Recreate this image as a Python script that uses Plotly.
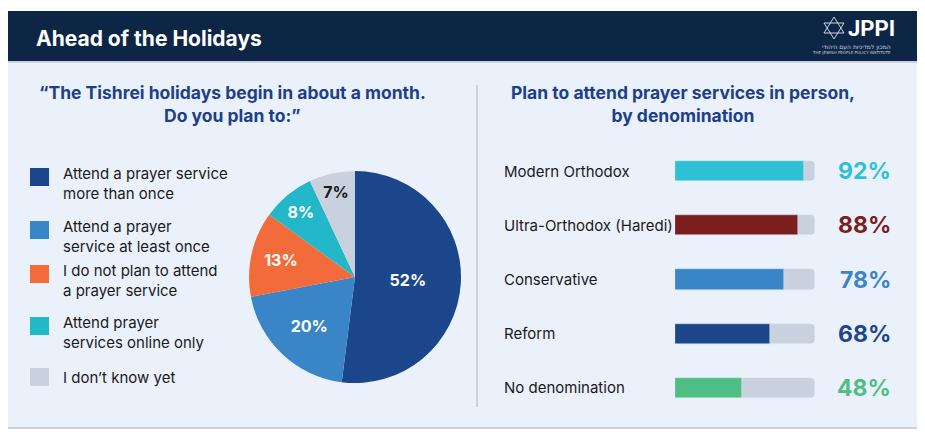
import plotly.graph_objects as go

# pie: "Do you plan to:"
pie_labels = [
    "Attend a prayer service<br>more than once",
    "Attend a prayer<br>service at least once",
    "I do not plan to attend<br>a prayer service",
    "Attend prayer<br>services online only",
    "I don\u2019t know yet",
]
pie_values = [52, 20, 13, 8, 7]
pie_colors = ["#1B468C", "#3A84C8", "#F26B3A", "#22B8C9", "#C8D1DD"]
pie_text_colors = ["white", "white", "white", "white", "#1a1a1a"]

# bars: attend in person, by denomination
denoms = ["Modern Orthodox", "Ultra-Orthodox (Haredi)", "Conservative", "Reform", "No denomination"]
denom_pct = [92, 88, 78, 68, 48]
denom_colors = ["#2EC1D6", "#7A1E1E", "#3A84C8", "#1B468C", "#4FBE85"]

W, H = 925, 435
OFF = 8  # page body margin
NAVY = "#0D2646"
PANEL = "#EAF1FA"
TRACK = "#C8D1DD"
TITLE_BLUE = "#1D3F8A"
BODY_FONT = "Inter, Open Sans, sans-serif"


def px(x):
    return (x - OFF) / W


def py(y):
    return 1 - (y - OFF) / H


fig = go.Figure()

fig.add_trace(go.Pie(
    labels=pie_labels, values=pie_values, sort=False, direction="clockwise",
    marker=dict(colors=pie_colors, line=dict(width=0)),
    texttemplate="<b>%{value}%</b>", textposition="inside", insidetextorientation="horizontal",
    textfont=dict(family="Inter, sans-serif", size=16, color=pie_text_colors),
    domain=dict(x=[px(249), px(461)], y=[py(383), py(171)]),
    showlegend=False, hoverinfo="label+percent",
))

# grey tracks then coloured bars
fig.add_trace(go.Bar(
    y=denoms, x=[100] * len(denoms), orientation="h",
    marker=dict(color=TRACK, cornerradius=4), width=0.37,
    hoverinfo="skip", showlegend=False,
))
fig.add_trace(go.Bar(
    y=denoms, x=denom_pct, orientation="h",
    marker=dict(color=denom_colors, cornerradius=4), width=0.37,
    showlegend=False,
))

fig.update_layout(
    width=W, height=H, margin=dict(l=0, r=0, t=0, b=0),
    paper_bgcolor="white", plot_bgcolor="rgba(0,0,0,0)",
    barmode="overlay", bargap=0,
    xaxis=dict(domain=[px(675), px(815)], range=[0, 100], visible=False, fixedrange=True),
    yaxis=dict(domain=[py(415), py(144)], autorange="reversed", visible=False, fixedrange=True),
    font=dict(family=BODY_FONT, size=15, color="#1a1a1a"),
)

shapes = [
    # header band and panel
    dict(type="rect", xref="paper", yref="paper", x0=px(4), x1=px(920), y0=py(62), y1=py(11),
         fillcolor=NAVY, line=dict(width=0), layer="below"),
    dict(type="rect", xref="paper", yref="paper", x0=px(5), x1=px(919), y0=py(428), y1=py(62),
         fillcolor=PANEL, line=dict(color=TRACK, width=2), layer="below"),
    dict(type="line", xref="paper", yref="paper", x0=px(477), x1=px(477), y0=py(85), y1=py(407),
         line=dict(color=TRACK, width=2)),
    # logo star
    dict(type="path", xref="paper", yref="paper",
         path="M {} {} L {} {} L {} {} Z".format(px(834), py(17), px(824), py(33), px(844), py(33)),
         line=dict(color="#c9d3e0", width=1)),
    dict(type="path", xref="paper", yref="paper",
         path="M {} {} L {} {} L {} {} Z".format(px(834), py(39), px(824), py(23), px(844), py(23)),
         line=dict(color="#c9d3e0", width=1)),
]

annotations = [
    dict(text="<b>Ahead of the Holidays</b>", x=px(34), y=py(39), xanchor="left", yanchor="middle",
         font=dict(family=BODY_FONT, size=21, color="white")),
    dict(text="<b>JPPI</b>", x=px(846), y=py(29), xanchor="left", yanchor="middle",
         font=dict(family="Roboto, sans-serif", size=22, color="white")),
    dict(text="\u05d4\u05de\u05db\u05d5\u05df \u05dc\u05de\u05d3\u05d9\u05e0\u05d9\u05d5\u05ea \u05d4\u05e2\u05dd \u05d4\u05d9\u05d4\u05d5\u05d3\u05d9",
         x=px(893), y=py(47), xanchor="right", yanchor="middle",
         font=dict(family="DejaVu Sans, sans-serif", size=6, color="#c9d3e0")),
    dict(text="THE JEWISH PEOPLE POLICY INSTITUTE", x=px(893), y=py(53), xanchor="right", yanchor="middle",
         font=dict(family="DejaVu Sans, sans-serif", size=4, color="#c9d3e0")),
    dict(text="<b>\u201cThe Tishrei holidays begin in about a month.<br>Do you plan to:\u201d</b>",
         x=px(232), y=py(104), xanchor="center", yanchor="middle",
         font=dict(family=BODY_FONT, size=17.5, color=TITLE_BLUE)),
    dict(text="<b>Plan to attend prayer services in person,<br>by denomination</b>",
         x=px(683), y=py(104), xanchor="center", yanchor="middle",
         font=dict(family=BODY_FONT, size=17.5, color=TITLE_BLUE)),
]

# pie legend
legend_y = [177, 230, 274, 326, 377]
for lab, col, yy in zip(pie_labels, pie_colors, legend_y):
    shapes.append(dict(type="rect", xref="paper", yref="paper", x0=px(30), x1=px(49),
                       y0=py(yy + 9), y1=py(yy - 9), fillcolor=col, line=dict(width=0)))
    annotations.append(dict(text=lab, x=px(61), y=py(yy + 6 if "<br>" in lab else yy),
                            xanchor="left", yanchor="middle", align="left",
                            font=dict(family=BODY_FONT, size=15, color="#1a1a1a")))

# bar labels and values
for name, val, col in zip(denoms, denom_pct, denom_colors):
    annotations.append(dict(text=name, xref="paper", yref="y", x=px(502), y=name,
                            xanchor="left", yanchor="middle",
                            font=dict(family=BODY_FONT, size=15, color="#1a1a1a")))
    annotations.append(dict(text="<b>%d%%</b>" % val, xref="paper", yref="y", x=px(893), y=name,
                            xanchor="right", yanchor="middle",
                            font=dict(family="Inter, sans-serif", size=23, color=col)))

for a in annotations:
    a.setdefault("xref", "paper")
    a.setdefault("yref", "paper")
    a["showarrow"] = False

fig.update_layout(shapes=shapes, annotations=annotations)
fig.write_html("out.html")
